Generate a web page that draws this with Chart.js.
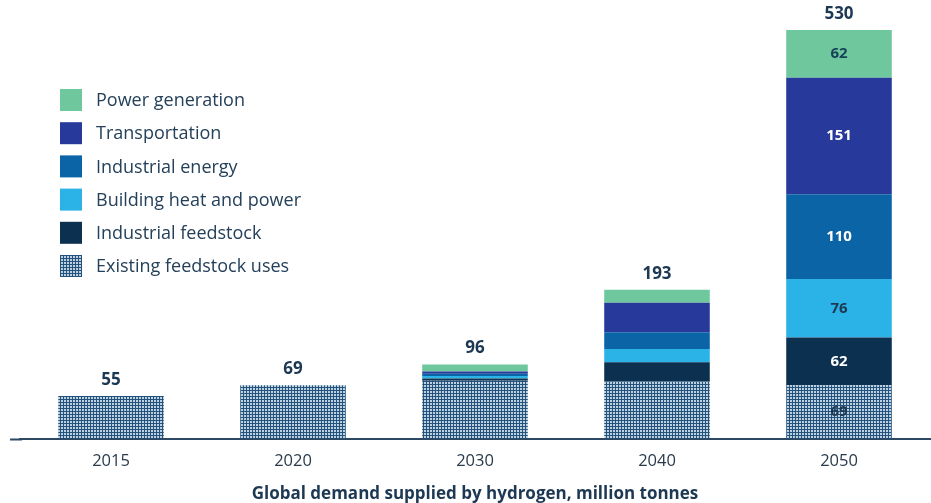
<!DOCTYPE html>
<html>
<head>
  <meta charset="UTF-8">
  <title>Global hydrogen demand</title>
  <script src="https://cdn.jsdelivr.net/npm/chart.js"></script>
  <style>
    html, body { margin: 0; padding: 0; background: #fff; }
    #wrap { width: 931px; height: 503px; }
  </style>
</head>
<body>
  <div id="wrap"><canvas id="h2Chart"></canvas></div>
  <script>
    const years = ['2015', '2020', '2030', '2040', '2050'];
    const existingFeedstock = [55, 69, 75, 74, 69];
    const industrialFeedstock = [0, 0, 3, 25, 62];
    const buildingHeat = [0, 0, 3, 17, 76];
    const industrialEnergy = [0, 0, 3, 22, 110];
    const transportation = [0, 0, 3, 38, 151];
    const powerGeneration = [0, 0, 9, 17, 62];
    const totals = [55, 69, 96, 193, 530];
    // segment values are printed only on the last column
    const labelledYear = '2050';

    const navy = '#1d3853';

    // small grid tile for the existing feedstock hatch
    function gridPattern() {
      const c = document.createElement('canvas');
      c.width = 3; c.height = 3;
      const g = c.getContext('2d');
      g.fillStyle = '#24527a';
      g.fillRect(0, 0, 3, 3);
      g.fillStyle = '#bcd2e2';
      g.fillRect(1, 1, 2, 2);
      return g.createPattern(c, 'repeat');
    }
    const hatch = gridPattern();

    const series = [
      { label: 'Existing feedstock uses', data: existingFeedstock, backgroundColor: hatch, text: navy },
      { label: 'Industrial feedstock', data: industrialFeedstock, backgroundColor: '#0c3050', text: '#ffffff' },
      { label: 'Building heat and power', data: buildingHeat, backgroundColor: '#2bb3e8', text: navy },
      { label: 'Industrial energy', data: industrialEnergy, backgroundColor: '#0b64a6', text: '#ffffff' },
      { label: 'Transportation', data: transportation, backgroundColor: '#27399a', text: '#ffffff' },
      { label: 'Power generation', data: powerGeneration, backgroundColor: '#6fc79e', text: '#17425a' }
    ];

    const labelPlugin = {
      id: 'labels',
      afterDatasetsDraw(chart) {
        const ctx = chart.ctx;
        ctx.save();
        ctx.textAlign = 'center';
        ctx.textBaseline = 'middle';
        const col = years.indexOf(labelledYear);
        ctx.font = 'bold 15px "Open Sans"';
        chart.data.datasets.forEach((ds, i) => {
          const bar = chart.getDatasetMeta(i).data[col];
          ctx.fillStyle = ds.text;
          ctx.fillText(ds.data[col], bar.x, (bar.y + bar.base) / 2);
        });
        // totals above each stack
        ctx.font = 'bold 17px "Open Sans"';
        ctx.fillStyle = navy;
        totals.forEach((t, j) => {
          const x = chart.getDatasetMeta(0).data[j].x;
          const y = chart.scales.y.getPixelForValue(t);
          ctx.fillText(t, x, y - 16);
        });
        ctx.restore();
      },
      afterDraw(chart) {
        // axis line runs a little past the first column
        const ctx = chart.ctx;
        const a = chart.chartArea;
        ctx.save();
        ctx.strokeStyle = '#2c4862';
        ctx.lineWidth = 2;
        ctx.beginPath();
        ctx.moveTo(10, a.bottom + 1);
        ctx.lineTo(a.left + 2, a.bottom + 1);
        ctx.stroke();
        ctx.restore();
      }
    };

    const legendPlugin = {
      id: 'sideLegend',
      afterDraw(chart) {
        const ctx = chart.ctx;
        ctx.save();
        ctx.textBaseline = 'middle';
        ctx.font = '18px "Open Sans"';
        const items = chart.data.datasets.slice().reverse();
        items.forEach((ds, i) => {
          const y = 100 + i * 33.2;
          ctx.fillStyle = ds.backgroundColor;
          ctx.fillRect(60, y - 11, 22, 22);
          ctx.fillStyle = '#24405a';
          ctx.fillText(ds.label, 96, y + 1);
        });
        ctx.restore();
      }
    };

    new Chart(document.getElementById('h2Chart'), {
      type: 'bar',
      data: {
        labels: years,
        datasets: series.map(s => ({
          label: s.label,
          data: s.data,
          backgroundColor: s.backgroundColor,
          text: s.text,
          borderWidth: 0,
          categoryPercentage: 1,
          barPercentage: 0.58
        }))
      },
      options: {
        responsive: true,
        maintainAspectRatio: false,
        animation: false,
        layout: { padding: { top: 30, left: 20, right: 1, bottom: 0 } },
        plugins: {
          legend: { display: false },
          tooltip: { enabled: false }
        },
        scales: {
          x: {
            stacked: true,
            grid: { display: false, drawTicks: false },
            border: { color: '#2c4862', width: 2 },
            ticks: { color: '#2a3a4a', font: { size: 16.5, family: '"Open Sans"', lineHeight: 1 }, padding: 15 },
            title: {
              display: true,
              text: 'Global demand supplied by hydrogen, million tonnes',
              color: navy,
              font: { size: 17, weight: 'bold', family: '"Open Sans"', lineHeight: 1 },
              padding: { top: 1, bottom: 0 }
            }
          },
          y: {
            stacked: true,
            display: false,
            min: 0,
            max: 530
          }
        }
      },
      plugins: [labelPlugin, legendPlugin]
    });
  </script>
</body>
</html>
